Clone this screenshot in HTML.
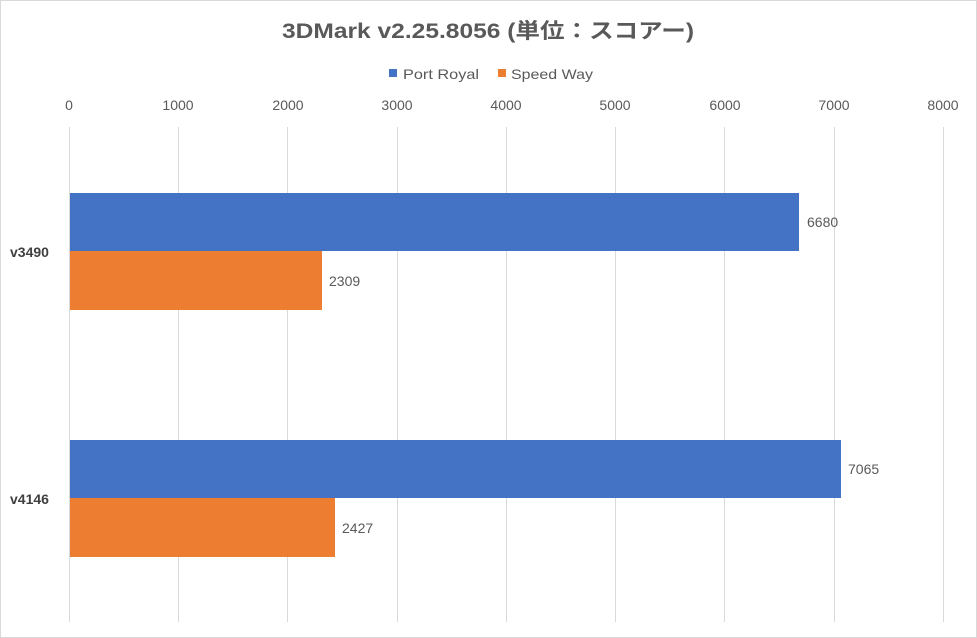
<!DOCTYPE html>
<html><head><meta charset="utf-8"><style>
html,body{margin:0;padding:0;background:#fff;}
svg{display:block;font-family:"Liberation Sans","Noto Sans CJK JP",sans-serif;}
</style></head><body>
<svg width="977" height="638" viewBox="0 0 977 638">
<rect x="0.5" y="0.5" width="976" height="637" fill="#fff" stroke="#d9d9d9"/>
<text x="488" y="38" text-anchor="middle" font-size="21" font-weight="bold" fill="#595959" textLength="412" lengthAdjust="spacingAndGlyphs">3DMark v2.25.8056 (単位：スコアー)</text>
<rect x="389" y="69" width="8" height="8" fill="#4472c4"/>
<text x="403" y="79" font-size="14" fill="#595959" textLength="76" lengthAdjust="spacingAndGlyphs">Port Royal</text>
<rect x="498" y="69" width="8" height="8" fill="#ed7d31"/>
<text x="511" y="79" font-size="14" fill="#595959" textLength="82" lengthAdjust="spacingAndGlyphs">Speed Way</text>
<g stroke="#d9d9d9" stroke-width="1">
<line x1="69.5" y1="127" x2="69.5" y2="622"/>
<line x1="178.5" y1="127" x2="178.5" y2="622"/>
<line x1="287.5" y1="127" x2="287.5" y2="622"/>
<line x1="397.5" y1="127" x2="397.5" y2="622"/>
<line x1="506.5" y1="127" x2="506.5" y2="622"/>
<line x1="615.5" y1="127" x2="615.5" y2="622"/>
<line x1="724.5" y1="127" x2="724.5" y2="622"/>
<line x1="834.5" y1="127" x2="834.5" y2="622"/>
<line x1="943.5" y1="127" x2="943.5" y2="622"/>
</g>
<g font-size="14" fill="#595959" text-anchor="middle">
<text x="69" y="110">0</text>
<text x="178" y="110">1000</text>
<text x="288" y="110">2000</text>
<text x="397" y="110">3000</text>
<text x="506" y="110">4000</text>
<text x="615" y="110">5000</text>
<text x="725" y="110">6000</text>
<text x="834" y="110">7000</text>
<text x="943" y="110">8000</text>
</g>
<rect x="70" y="193" width="729" height="58" fill="#4472c4"/>
<rect x="70" y="251" width="252" height="59" fill="#ed7d31"/>
<rect x="70" y="440" width="771" height="58" fill="#4472c4"/>
<rect x="70" y="498" width="265" height="59" fill="#ed7d31"/>
<g font-size="14" fill="#595959">
<text x="807" y="227">6680</text>
<text x="329" y="286">2309</text>
<text x="848" y="474">7065</text>
<text x="342" y="533">2427</text>
</g>
<g font-size="14" font-weight="bold" fill="#404040">
<text x="10" y="257">v3490</text>
<text x="10" y="504">v4146</text>
</g>
</svg>
</body></html>
